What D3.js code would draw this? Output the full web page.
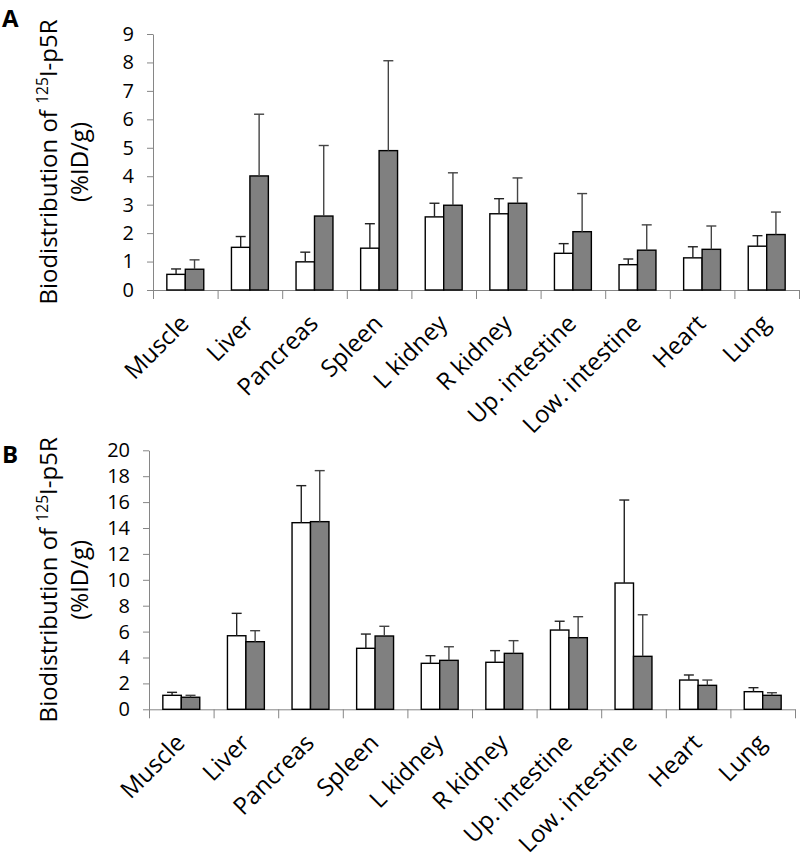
<!DOCTYPE html>
<html>
<head>
<meta charset="utf-8">
<script src="https://cdn.jsdelivr.net/npm/d3@7"></script>
<style>
  body { margin: 0; background: #fff; }
  svg text { font-family: "Open Sans", "Noto Sans", sans-serif; fill: #000; }
</style>
</head>
<body>
<svg id="chart" width="800" height="860"></svg>
<script>
// organs on the x axis (same for both panels)
const categories = ["Muscle", "Liver", "Pancreas", "Spleen", "L kidney", "R kidney",
  "Up. intestine", "Low. intestine", "Heart", "Lung"];

// panel A : mean and SD, white / gray group
const aWhite    = [0.55, 1.50, 0.99, 1.47, 2.57, 2.68, 1.29, 0.89, 1.13, 1.54];
const aWhiteSd  = [0.19, 0.38, 0.34, 0.86, 0.48, 0.53, 0.34, 0.20, 0.39, 0.37];
const aGray     = [0.73, 4.01, 2.60, 4.90, 2.98, 3.05, 2.05, 1.40, 1.43, 1.95];
const aGraySd   = [0.33, 2.17, 2.48, 3.16, 1.14, 0.89, 1.34, 0.89, 0.82, 0.79];
const aTicks    = [0, 1, 2, 3, 4, 5, 6, 7, 8, 9];

// panel B
const bWhite    = [1.08, 5.68, 14.41, 4.71, 3.55, 3.63, 6.12, 9.75, 2.26, 1.36];
const bWhiteSd  = [0.23, 1.73, 2.86, 1.10, 0.59, 0.90, 0.68, 6.41, 0.39, 0.31];
const bGray     = [0.93, 5.22, 14.49, 5.66, 3.78, 4.32, 5.53, 4.09, 1.85, 1.08];
const bGraySd   = [0.15, 0.85, 3.94, 0.75, 1.05, 0.98, 1.62, 3.21, 0.41, 0.20];
const bTicks    = [0, 2, 4, 6, 8, 10, 12, 14, 16, 18, 20];

const svg = d3.select('#chart');
const axisColor = '#868686';

function panel(opts){
	const g = svg.append('g');

	const x = d3.scaleBand().domain(categories).range([opts.left, opts.right]).padding(0);
	const sub = d3.scaleBand().domain(['white', 'gray']).range([0, x.bandwidth()])
		.paddingInner(0).paddingOuter(0.75);
	const y = d3.scaleLinear().domain([0, opts.max]).range([opts.bottom, opts.top]);

	const rows = categories.map((c, i) => ({
		cat: c,
		vals: [
			{key: 'white', v: opts.white[i], sd: opts.whiteSd[i]},
			{key: 'gray', v: opts.gray[i], sd: opts.graySd[i]}
		]
	}));

	// y axis
	const yAxis = g.append('g')
		.attr('transform', `translate(${opts.left},0)`)
		.call(d3.axisLeft(y).tickValues(opts.ticks).tickSize(6).tickPadding(13).tickSizeOuter(0));
	yAxis.selectAll('path, line').attr('stroke', axisColor);
	yAxis.selectAll('text').style('font-size', opts.tickFont + 'px').attr('fill', '#000');

	// x axis: line with ticks between categories
	const idx = d3.scaleLinear().domain([0, categories.length]).range([opts.left, opts.right]);
	const xAxis = g.append('g')
		.attr('transform', `translate(0,${opts.bottom})`)
		.call(d3.axisBottom(idx).tickValues(d3.range(categories.length + 1))
			.tickSize(9).tickSizeOuter(0).tickFormat(''));
	xAxis.selectAll('path, line').attr('stroke', axisColor);

	// bars
	const groups = g.selectAll('.grp')
		.data(rows)
		.enter().append('g')
		.attr('class', 'grp')
		.attr('transform', d => `translate(${x(d.cat)},0)`);

	groups.selectAll('rect')
		.data(d => d.vals)
		.enter().append('rect')
		.attr('x', d => sub(d.key))
		.attr('y', d => y(d.v))
		.attr('width', sub.bandwidth())
		.attr('height', d => y(0) - y(d.v))
		.attr('fill', d => d.key === 'white' ? '#ffffff' : '#808080')
		.attr('stroke', '#000')
		.attr('stroke-width', 1.4);

	// error bars (upper only)
	const err = groups.selectAll('.err')
		.data(d => d.vals)
		.enter().append('g')
		.attr('class', 'err')
		.attr('stroke', d => d.key === 'white' ? '#222' : '#444')
		.attr('stroke-width', 1.4);
	err.append('line')
		.attr('x1', d => sub(d.key) + sub.bandwidth() / 2)
		.attr('x2', d => sub(d.key) + sub.bandwidth() / 2)
		.attr('y1', d => y(d.v))
		.attr('y2', d => y(d.v + d.sd));
	err.append('line')
		.attr('x1', d => sub(d.key) + sub.bandwidth() / 2 - 5)
		.attr('x2', d => sub(d.key) + sub.bandwidth() / 2 + 5)
		.attr('y1', d => y(d.v + d.sd))
		.attr('y2', d => y(d.v + d.sd));

	// rotated category labels
	g.selectAll('.cat')
		.data(categories)
		.enter().append('text')
		.attr('class', 'cat')
		.attr('text-anchor', 'end')
		.style('font-size', opts.labelFont + 'px')
		.attr('transform', d => `translate(${x(d) + x.bandwidth() / 2 + 5},${opts.bottom + 35}) rotate(-45)`)
		.text(d => d);

	// y title, two lines
	const midY = (opts.top + opts.bottom) / 2;
	const t1 = g.append('text')
		.attr('text-anchor', 'middle')
		.style('font-size', opts.titleFont + 'px')
		.attr('transform', `translate(${opts.titleX},${midY}) rotate(-90)`);
	t1.append('tspan').text('Biodistribution of ');
	t1.append('tspan').attr('dy', -9).style('font-size', (opts.titleFont * 0.65) + 'px').text('125');
	t1.append('tspan').attr('dy', 9).text('I-p5R');

	g.append('text')
		.attr('text-anchor', 'middle')
		.style('font-size', opts.titleFont + 'px')
		.attr('transform', `translate(${opts.titleX + 31},${midY}) rotate(-90)`)
		.text('(%ID/g)');

	// panel letter
	g.append('text')
		.attr('x', 2)
		.attr('y', opts.letterY)
		.style('font-size', '24px')
		.style('font-weight', 'bold')
		.text(opts.letter);
}

panel({
	letter: 'A', letterY: 26.5,
	left: 153, right: 799, top: 34, bottom: 290, max: 9, ticks: aTicks,
	white: aWhite, whiteSd: aWhiteSd, gray: aGray, graySd: aGraySd,
	tickFont: 20, labelFont: 24, titleFont: 24, titleX: 57
});

panel({
	letter: 'B', letterY: 463,
	left: 149, right: 795, top: 450.3, bottom: 709.3, max: 20, ticks: bTicks,
	white: bWhite, whiteSd: bWhiteSd, gray: bGray, graySd: bGraySd,
	tickFont: 20, labelFont: 24, titleFont: 24, titleX: 57
});
</script>
</body>
</html>
